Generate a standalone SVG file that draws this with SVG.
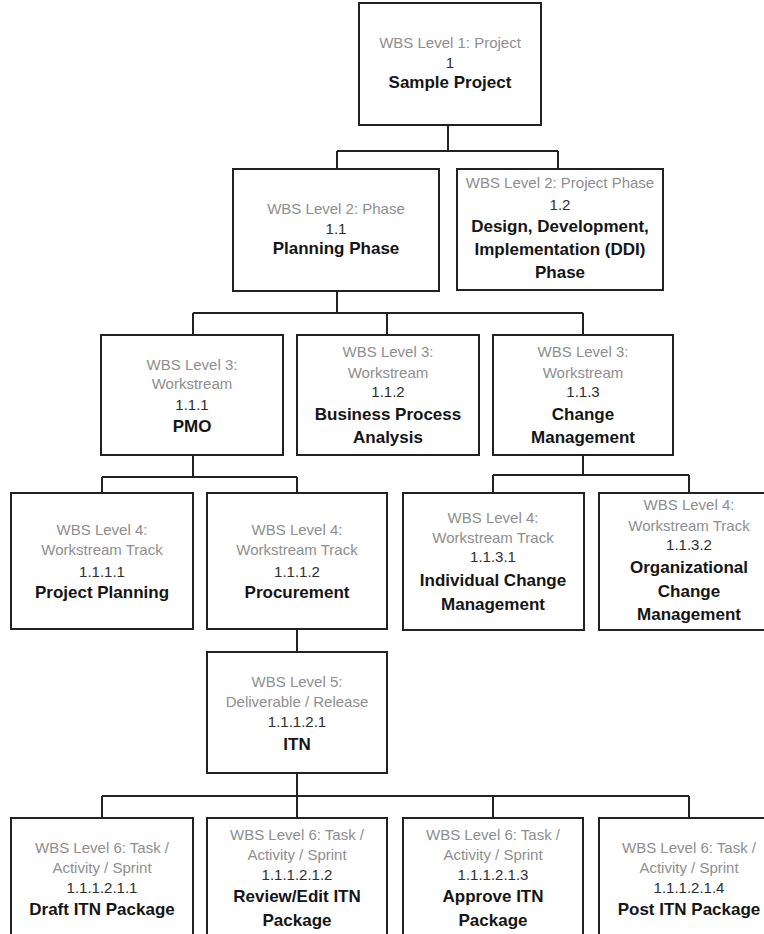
<svg xmlns="http://www.w3.org/2000/svg" width="764" height="934" viewBox="0 0 764 934">
<style>
.box{fill:#fff;stroke:#222;stroke-width:2}
.ln{fill:none;stroke:#222;stroke-width:2}
text{font-family:"Liberation Sans",Arial,sans-serif;text-anchor:middle}
.g{font-size:15px;fill:#8e8e8e}
.n{font-size:15px;fill:#2e2e2e}
.t{font-size:17px;font-weight:bold;fill:#151515}
</style>
<rect width="764" height="934" fill="#fff"/>
<g id="connectors">
<path class="ln" d="M448 125V151M337 151H558M337 151V169M558 151V169"/>
<path class="ln" d="M337 291V313M193 313H583M193 313V335M387 313V335M583 313V335"/>
<path class="ln" d="M193 455V477M102 477H297M102 477V493M297 477V493"/>
<path class="ln" d="M583 455V475M493 475H689M493 475V493M689 475V493"/>
<path class="ln" d="M297 629V652"/>
<path class="ln" d="M297 773V796M102 796H689M102 796V818M297 796V818M493 796V818M689 796V818"/>
</g>
<g id="n1">
<rect class="box" x="359" y="3" width="182" height="122"/>
<text class="g" x="450" y="48">WBS Level 1: Project</text>
<text class="n" x="450" y="68">1</text>
<text class="t" x="450" y="88">Sample Project</text>
</g>
<g id="n1_1">
<rect class="box" x="233" y="169" width="206" height="122"/>
<text class="g" x="336" y="214">WBS Level 2: Phase</text>
<text class="n" x="336" y="234">1.1</text>
<text class="t" x="336" y="254">Planning Phase</text>
</g>
<g id="n1_2">
<rect class="box" x="457" y="169" width="206" height="121"/>
<text class="g" x="560" y="188">WBS Level 2: Project Phase</text>
<text class="n" x="560" y="210">1.2</text>
<text class="t" x="560" y="232">Design, Development,</text>
<text class="t" x="560" y="255">Implementation (DDI)</text>
<text class="t" x="560" y="278">Phase</text>
</g>
<g id="n1_1_1">
<rect class="box" x="101" y="335" width="182" height="120"/>
<text class="g" x="192" y="370">WBS Level 3:</text>
<text class="g" x="192" y="389">Workstream</text>
<text class="n" x="192" y="410">1.1.1</text>
<text class="t" x="192" y="432">PMO</text>
</g>
<g id="n1_1_2">
<rect class="box" x="297" y="335" width="182" height="120"/>
<text class="g" x="388" y="357">WBS Level 3:</text>
<text class="g" x="388" y="378">Workstream</text>
<text class="n" x="388" y="397">1.1.2</text>
<text class="t" x="388" y="420">Business Process</text>
<text class="t" x="388" y="443">Analysis</text>
</g>
<g id="n1_1_3">
<rect class="box" x="493" y="335" width="180" height="120"/>
<text class="g" x="583" y="357">WBS Level 3:</text>
<text class="g" x="583" y="378">Workstream</text>
<text class="n" x="583" y="397">1.1.3</text>
<text class="t" x="583" y="420">Change</text>
<text class="t" x="583" y="443">Management</text>
</g>
<g id="n1_1_1_1">
<rect class="box" x="11" y="493" width="182" height="136"/>
<text class="g" x="102" y="535">WBS Level 4:</text>
<text class="g" x="102" y="555">Workstream Track</text>
<text class="n" x="102" y="577">1.1.1.1</text>
<text class="t" x="102" y="598">Project Planning</text>
</g>
<g id="n1_1_1_2">
<rect class="box" x="207" y="493" width="180" height="136"/>
<text class="g" x="297" y="535">WBS Level 4:</text>
<text class="g" x="297" y="555">Workstream Track</text>
<text class="n" x="297" y="577">1.1.1.2</text>
<text class="t" x="297" y="598">Procurement</text>
</g>
<g id="n1_1_3_1">
<rect class="box" x="403" y="493" width="181" height="137"/>
<text class="g" x="493" y="523">WBS Level 4:</text>
<text class="g" x="493" y="543">Workstream Track</text>
<text class="n" x="493" y="562">1.1.3.1</text>
<text class="t" x="493" y="586">Individual Change</text>
<text class="t" x="493" y="610">Management</text>
</g>
<g id="n1_1_3_2">
<rect class="box" x="599" y="493" width="180" height="137"/>
<text class="g" x="689" y="510">WBS Level 4:</text>
<text class="g" x="689" y="531">Workstream Track</text>
<text class="n" x="689" y="550">1.1.3.2</text>
<text class="t" x="689" y="573">Organizational</text>
<text class="t" x="689" y="597">Change</text>
<text class="t" x="689" y="620">Management</text>
</g>
<g id="n1_1_1_2_1">
<rect class="box" x="207" y="652" width="180" height="121"/>
<text class="g" x="297" y="687">WBS Level 5:</text>
<text class="g" x="297" y="707">Deliverable / Release</text>
<text class="n" x="297" y="727">1.1.1.2.1</text>
<text class="t" x="297" y="750">ITN</text>
</g>
<g id="n1_1_1_2_1_1">
<rect class="box" x="11" y="818" width="182" height="130"/>
<text class="g" x="102" y="853">WBS Level 6: Task /</text>
<text class="g" x="102" y="873">Activity / Sprint</text>
<text class="n" x="102" y="893">1.1.1.2.1.1</text>
<text class="t" x="102" y="915">Draft ITN Package</text>
</g>
<g id="n1_1_1_2_1_2">
<rect class="box" x="207" y="818" width="180" height="130"/>
<text class="g" x="297" y="840">WBS Level 6: Task /</text>
<text class="g" x="297" y="860">Activity / Sprint</text>
<text class="n" x="297" y="880">1.1.1.2.1.2</text>
<text class="t" x="297" y="902">Review/Edit ITN</text>
<text class="t" x="297" y="926">Package</text>
</g>
<g id="n1_1_1_2_1_3">
<rect class="box" x="403" y="818" width="180" height="130"/>
<text class="g" x="493" y="840">WBS Level 6: Task /</text>
<text class="g" x="493" y="860">Activity / Sprint</text>
<text class="n" x="493" y="880">1.1.1.2.1.3</text>
<text class="t" x="493" y="902">Approve ITN</text>
<text class="t" x="493" y="926">Package</text>
</g>
<g id="n1_1_1_2_1_4">
<rect class="box" x="599" y="818" width="180" height="130"/>
<text class="g" x="689" y="853">WBS Level 6: Task /</text>
<text class="g" x="689" y="873">Activity / Sprint</text>
<text class="n" x="689" y="893">1.1.1.2.1.4</text>
<text class="t" x="689" y="915">Post ITN Package</text>
</g>
</svg>
